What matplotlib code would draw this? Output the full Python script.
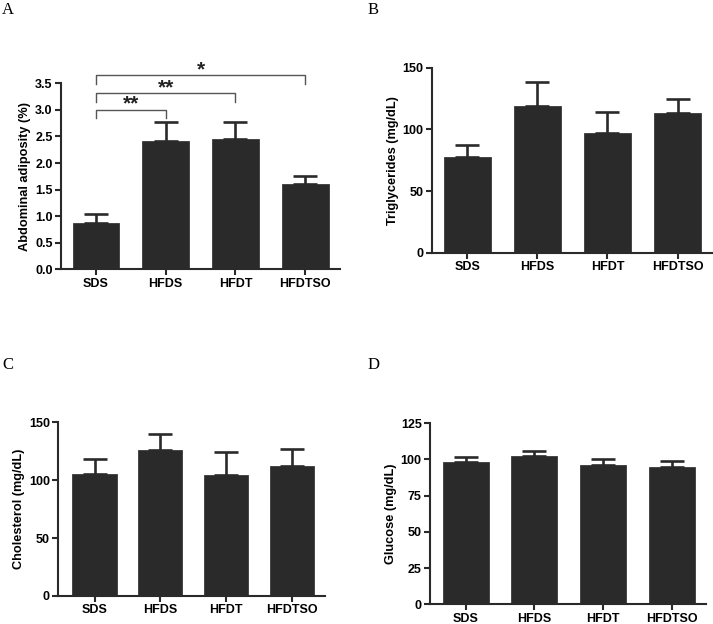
import matplotlib
matplotlib.use("Agg")
import matplotlib.pyplot as plt

groups = ["SDS", "HFDS", "HFDT", "HFDTSO"]

adiposity = [0.88, 2.41, 2.45, 1.61]
adiposity_err = [0.17, 0.36, 0.33, 0.14]

triglycerides = [77.4, 119.0, 96.8, 113.5]
triglycerides_err = [10.0, 19.4, 17.0, 11.4]

cholesterol = [105.4, 125.8, 104.8, 112.5]
cholesterol_err = [12.6, 14.4, 19.6, 14.5]

glucose = [97.9, 102.5, 96.0, 94.9]
glucose_err = [3.9, 3.2, 4.2, 4.1]

# significance brackets (from index, to index, bracket height, label)
brackets = [(0, 1, 3.00, "**"), (0, 2, 3.31, "**"), (0, 3, 3.65, "*")]

BAR = "#2a2a2a"
FONT = "Liberation Sans"

fig = plt.figure(figsize=(7.13, 6.24), dpi=100)

panels = [
    ("A", [0.0856, 0.5684, 0.3913, 0.2981], adiposity, adiposity_err,
     "Abdominal adiposity (%)", (0, 3.5), [0, 0.5, 1.0, 1.5, 2.0, 2.5, 3.0, 3.5], "{:.1f}", (-0.5, 3.5)),
    ("B", [0.6059, 0.5950, 0.3937, 0.2965], triglycerides, triglycerides_err,
     "Triglycerides (mg/dL)", (0, 150), [0, 50, 100, 150], "{:d}", (-0.5, 3.5)),
    ("C", [0.0818, 0.0449, 0.3740, 0.2784], cholesterol, cholesterol_err,
     "Cholesterol (mg/dL)", (0, 150), [0, 50, 100, 150], "{:d}", (-0.55, 3.5)),
    ("D", [0.6031, 0.0316, 0.3871, 0.2905], glucose, glucose_err,
     "Glucose (mg/dL)", (0, 125), [0, 25, 50, 75, 100, 125], "{:d}", (-0.52, 3.5)),
]

axes = {}
for letter, rect, vals, errs, ylabel, ylim, yticks, fmt, xlim in panels:
    ax = fig.add_axes(rect)
    axes[letter] = ax
    x = list(range(len(groups)))
    ax.bar(x, vals, width=0.67, color=BAR, edgecolor="#3a3a3a", linewidth=0.6,
           yerr=[[0] * len(errs), errs], capsize=8.5,
           error_kw=dict(ecolor=BAR, elinewidth=1.9, capthick=1.9), zorder=2)
    ax.set_xlim(*xlim)
    ax.set_ylim(*ylim)
    ax.set_xticks(x)
    ax.set_xticklabels(groups, fontfamily=FONT, fontweight="bold", fontsize=9)
    ax.set_yticks(yticks)
    ax.set_yticklabels([fmt.format(t) for t in yticks], fontfamily=FONT,
                       fontweight="bold", fontsize=9)
    ax.set_ylabel(ylabel, fontfamily=FONT, fontweight="bold", fontsize=9.2, labelpad=3)
    for s in ("top", "right"):
        ax.spines[s].set_visible(False)
    for s in ("left", "bottom"):
        ax.spines[s].set_linewidth(1.5)
        ax.spines[s].set_color("#2a2a2a")
    ax.tick_params(axis="both", width=1.5, length=4, color="#2a2a2a", pad=2)

# significance brackets on A
axA = axes["A"]
for i0, i1, h, lab in brackets:
    d = 0.16
    axA.plot([i0, i0, i1, i1], [h - d, h, h, h - d], color="#555555", lw=1.0,
             clip_on=False)
    axA.text((i0 + i1) / 2, h, lab, ha="center", va="baseline", fontfamily=FONT,
             fontweight="bold", fontsize=15, color="#222222", clip_on=False)

# panel letters
letters = [("A", 0.003, 0.997), ("B", 0.516, 0.997), ("C", 0.003, 0.428), ("D", 0.516, 0.428)]
for t, xf, yf in letters:
    fig.text(xf, yf, t, fontfamily="Liberation Serif", fontsize=12, ha="left", va="top")

fig.savefig("out.png", dpi=100)
